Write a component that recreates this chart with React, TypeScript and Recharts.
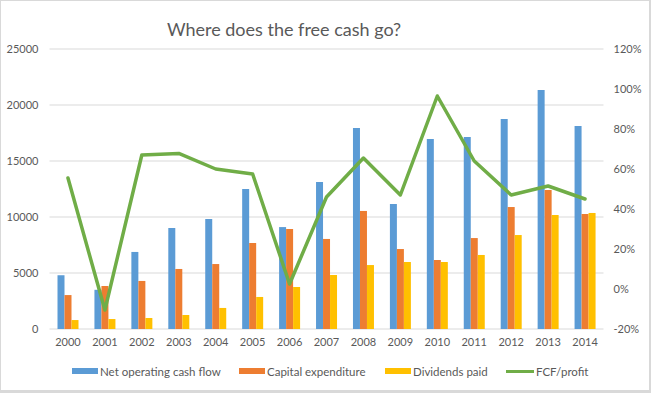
import React from 'react';
import {
  ComposedChart,
  Bar,
  Line,
  XAxis,
  YAxis,
  CartesianGrid,
} from 'recharts';

const years = ['2000','2001','2002','2003','2004','2005','2006','2007','2008','2009','2010','2011','2012','2013','2014'];
const netOperatingCashFlow = [4800, 3500, 6880, 9020, 9820, 12500, 9100, 13120, 17950, 11160, 16960, 17140, 18750, 21340, 18120];
const capitalExpenditure = [3030, 3840, 4290, 5360, 5800, 7680, 8930, 8040, 10540, 7140, 6160, 8120, 10890, 12410, 10270];
const dividendsPaid = [800, 890, 980, 1250, 1880, 2860, 3750, 4820, 5710, 5980, 5980, 6610, 8390, 10180, 10360];
const fcfProfit = [55.5, -10.5, 67, 67.8, 60, 57.5, 2.5, 46, 65.5, 47, 96.5, 64, 47, 51.5, 45];

const leftTicks = [0, 5000, 10000, 15000, 20000, 25000];
const rightTicks = [-20, 0, 20, 40, 60, 80, 100, 120];

const seriesNames = ['Net operating cash flow', 'Capital expenditure', 'Dividends paid', 'FCF/profit'];
const colors = ['#5B9BD5', '#ED7D31', '#FFC000', '#70AD47'];

const data = years.map((y, i) => ({
  year: y,
  ncf: netOperatingCashFlow[i],
  capex: capitalExpenditure[i],
  div: dividendsPaid[i],
  fcf: fcfProfit[i],
}));

const FONT = 'Lato, "Open Sans", sans-serif';
const tickStyle = { fill: '#595959', fontSize: 11, fontFamily: FONT };

const legendX = [71, 238, 384, 505];

const LegendBlock = () => (
  <div style={{ position: 'absolute', left: 0, top: 362, width: 651, height: 16 }}>
    {seriesNames.map((name, i) => (
      <div
        key={name}
        style={{
          position: 'absolute',
          left: legendX[i],
          top: 0,
          height: 16,
          display: 'flex',
          alignItems: 'center',
          fontFamily: FONT,
          fontSize: 11.5,
          color: '#595959',
          whiteSpace: 'nowrap',
        }}
      >
        <span
          style={{
            display: 'inline-block',
            width: i === 3 ? 28 : 26,
            height: i === 3 ? 3 : 6,
            background: colors[i],
            marginRight: 2,
          }}
        />
        {name}
      </div>
    ))}
  </div>
);

export default function App() {
  return (
    <div
      style={{
        position: 'absolute',
        left: 0,
        top: 0,
        width: 651,
        height: 393,
        background: '#fff',
        boxSizing: 'border-box',
        borderTop: '1px solid #D9D9D9',
        borderLeft: '1px solid #D9D9D9',
        borderRight: '2px solid #D9D9D9',
        borderBottom: '3px solid #D9D9D9',
        overflow: 'hidden',
      }}
    >
      <div
        style={{
          position: 'absolute',
          left: 0,
          width: 566,
          top: 17,
          textAlign: 'center',
          fontFamily: FONT,
          fontSize: 18,
          color: '#595959',
          lineHeight: '22px',
        }}
      >
        Where does the free cash go?
      </div>
      <div style={{ position: 'absolute', left: -1, top: -1 }}>
        <ComposedChart
          width={651}
          height={393}
          data={data}
          margin={{ top: 49, right: 0, left: 0, bottom: 64 - 30 }}
          barGap={0}
        >
          <CartesianGrid yAxisId="left" vertical={false} stroke="#D9D9D9" strokeWidth={1} />
          <XAxis
            dataKey="year"
            height={30}
            axisLine={false}
            tickLine={false}
            tickSize={0}
            tickMargin={9}
            tick={tickStyle}
            interval={0}
          />
          <YAxis
            yAxisId="left"
            orientation="left"
            width={49.5}
            domain={[0, 25000]}
            ticks={leftTicks}
            axisLine={false}
            tickLine={false}
            tickSize={0}
            tickMargin={11}
            tick={tickStyle}
            interval={0}
          />
          <YAxis
            yAxisId="right"
            orientation="right"
            width={47.5}
            domain={[-20, 120]}
            ticks={rightTicks}
            axisLine={false}
            tickLine={false}
            tickSize={0}
            tickMargin={10}
            tick={{ ...tickStyle, textAnchor: 'start' }}
            tickFormatter={(v: number) => `${v}%`}
            interval={0}
          />
          <Bar yAxisId="left" dataKey="ncf" name={seriesNames[0]} fill={colors[0]} barSize={7} isAnimationActive={false} />
          <Bar yAxisId="left" dataKey="capex" name={seriesNames[1]} fill={colors[1]} barSize={7} isAnimationActive={false} />
          <Bar yAxisId="left" dataKey="div" name={seriesNames[2]} fill={colors[2]} barSize={7} isAnimationActive={false} />
          <Line
            yAxisId="right"
            dataKey="fcf"
            name={seriesNames[3]}
            stroke={colors[3]}
            strokeWidth={3.5}
            dot={false}
            activeDot={false}
            type="linear"
            strokeLinejoin="round"
            strokeLinecap="round"
            isAnimationActive={false}
          />
        </ComposedChart>
      </div>
      <LegendBlock />
    </div>
  );
}
